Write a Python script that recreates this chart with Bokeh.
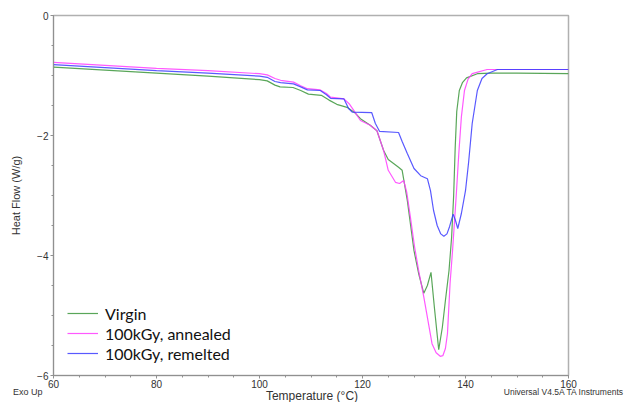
from bokeh.plotting import figure
from bokeh.models import Range1d, SingleIntervalTicker, Legend, LegendItem, Div
from bokeh.layouts import column
from bokeh.embed import file_html
from bokeh.resources import INLINE

# --- data (Temperature °C, Heat Flow W/g) ---
virgin_T = [60, 70, 80, 90, 100, 101.5, 103, 104, 106.5, 108, 109.5, 112, 113.5, 115, 117,
            118.5, 119.6, 121.5, 122.8, 124.1, 125, 126.1, 127, 127.7, 128.7, 130, 130.9,
            131.9, 132.6, 133.3, 134, 134.8, 135.5, 136.1, 136.8, 137.3, 137.7, 138.0, 138.3,
            138.8, 139.4, 140.2, 142.3, 145, 150, 160]
virgin_H = [-0.86, -0.91, -0.96, -1.01, -1.07, -1.09, -1.16, -1.19, -1.20, -1.25, -1.31, -1.33,
            -1.41, -1.48, -1.53, -1.62, -1.72, -1.83, -1.92, -2.25, -2.40, -2.47, -2.53, -2.58,
            -3.08, -3.92, -4.30, -4.63, -4.50, -4.28, -4.90, -5.57, -5.20, -4.75, -4.25, -3.70,
            -3.00, -2.20, -1.60, -1.25, -1.12, -1.04, -0.97, -0.96, -0.96, -0.97]

annealed_T = [60, 70, 80, 90, 100, 101.5, 103, 104.1, 106.6, 108, 109.3, 111.8, 113, 113.8,
              116.4, 117.5, 118.3, 119.6, 121.5, 122.8, 124.1, 125, 126.4, 127.2, 128, 128.6,
              129.3, 130.1, 130.9, 131.9, 133.5, 134.3, 135.1, 135.6, 136.1, 136.5, 137.0,
              137.5, 138.2, 138.7, 139.2, 139.8, 140.5, 141.3, 144.2, 150, 160]
annealed_H = [-0.78, -0.83, -0.88, -0.92, -0.97, -0.99, -1.05, -1.08, -1.11, -1.17, -1.22, -1.24,
              -1.30, -1.36, -1.39, -1.48, -1.58, -1.75, -1.83, -1.92, -2.25, -2.58, -2.78, -2.80,
              -2.75, -2.95, -3.36, -3.85, -4.25, -4.69, -5.47, -5.62, -5.68, -5.67, -5.55, -5.30,
              -4.47, -3.90, -3.00, -2.30, -1.69, -1.25, -1.06, -0.97, -0.90, -0.90, -0.90]

remelted_T = [60, 70, 80, 90, 100, 101.5, 103, 104.1, 106.6, 108, 109.3, 111.8, 113, 113.8,
              116.4, 117.3, 118, 121.8, 122.5, 123.3, 127, 127.7, 128.7, 130, 131.3, 132.6,
              133.2, 133.8, 134.5, 135.2, 135.8, 136.4, 136.9, 137.6, 138.0, 138.5, 139.2, 140,
              140.6, 141.3, 142.3, 143.2, 144.2, 146.2, 150, 160]
remelted_H = [-0.82, -0.87, -0.92, -0.96, -1.01, -1.03, -1.10, -1.12, -1.14, -1.19, -1.24, -1.25,
              -1.32, -1.38, -1.39, -1.55, -1.61, -1.62, -1.80, -1.93, -1.95, -2.10, -2.30, -2.55,
              -2.67, -2.72, -2.92, -3.25, -3.50, -3.64, -3.68, -3.64, -3.52, -3.31, -3.40, -3.55,
              -3.30, -2.92, -2.45, -1.80, -1.25, -1.05, -0.97, -0.90, -0.90, -0.90]

series_names = ["Virgin", "100kGy, annealed", "100kGy, remelted"]
series_colors = ["#3c963c", "#ff3cff", "#3c3cff"]

x_title = "Temperature (°C)"
y_title = "Heat Flow (W/g)"
note_left = "Exo Up"
note_right = "Universal V4.5A TA Instruments"

p = figure(width=624, height=390, output_backend="svg", toolbar_location=None,
           x_range=Range1d(60, 160), y_range=Range1d(-6, 0),
           min_border_left=53, min_border_right=56, min_border_top=15, min_border_bottom=15)
p.background_fill_color = "white"
p.border_fill_color = "white"
p.outline_line_color = "#b0b0b0"
p.outline_line_width = 1.5
p.xgrid.visible = False
p.ygrid.visible = False

renderers = []
for T, H, c in [(virgin_T, virgin_H, series_colors[0]),
                (annealed_T, annealed_H, series_colors[1]),
                (remelted_T, remelted_H, series_colors[2])]:
    r = p.line(T, H, line_color=c, line_width=1.2, line_alpha=0.85)
    renderers.append(r)

for ax in (p.xaxis[0], p.yaxis[0]):
    ax.axis_line_color = "#909090"
    ax.major_tick_line_color = "#909090"
    ax.minor_tick_line_color = "#909090"
    ax.major_tick_out = 3
    ax.major_tick_in = 0
    ax.minor_tick_out = 2
    ax.minor_tick_in = 0
    ax.major_label_text_font = "Liberation Sans"
    ax.major_label_text_font_size = "10px"
    ax.major_label_text_color = "#333333"
    ax.major_label_standoff = 2

p.xaxis[0].ticker = SingleIntervalTicker(interval=20, num_minor_ticks=4)
p.yaxis[0].ticker = SingleIntervalTicker(interval=2, num_minor_ticks=4)
p.xaxis[0].major_label_standoff = 1

p.yaxis[0].axis_label = y_title
p.yaxis[0].axis_label_text_font = "Liberation Sans"
p.yaxis[0].axis_label_text_font_size = "11px"
p.yaxis[0].axis_label_text_font_style = "normal"
p.yaxis[0].axis_label_text_color = "#333333"
p.yaxis[0].axis_label_standoff = 12

legend = Legend(items=[LegendItem(label=n, renderers=[r]) for n, r in zip(series_names, renderers)],
                location=(14, 12), border_line_color=None, background_fill_alpha=0,
                padding=0, margin=0, spacing=0, label_height=20, glyph_height=20, glyph_width=31,
                label_standoff=7, label_text_font="Lato", label_text_font_size="16px",
                label_text_color="#111111")
p.add_layout(legend, "center")

html = (
    '<div style="position:relative;width:624px;height:12px;font-family:\'Liberation Sans\';'
    'color:#333333;white-space:nowrap;">'
    f'<span style="position:absolute;left:13px;top:-3px;font-size:9px;line-height:10px;">{note_left}</span>'
    f'<span style="position:absolute;left:262px;width:100px;text-align:center;top:1px;'
    f'font-size:12px;line-height:11px;">{x_title}</span>'
    f'<span style="position:absolute;right:1px;top:-3px;font-size:8.5px;line-height:10px;">{note_right}</span>'
    '</div>'
)
notes = Div(text=html, width=624, height=12, styles={"overflow": "visible", "margin": "0"})

layout = column(p, notes, spacing=0)
open("out.html", "w").write(file_html(layout, INLINE))
